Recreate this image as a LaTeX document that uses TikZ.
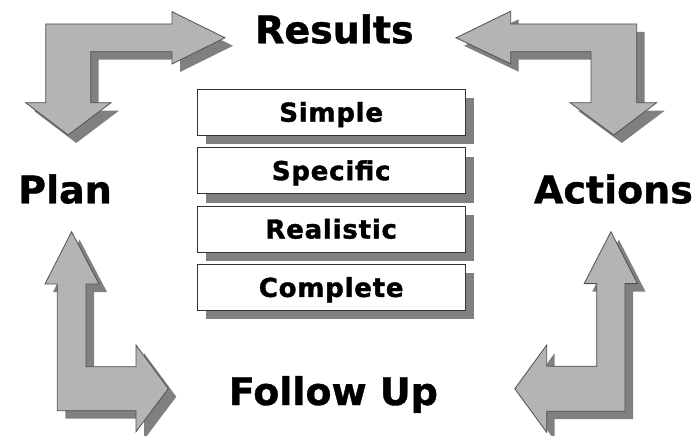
\documentclass[tikz,border=0pt]{standalone}
\usepackage{fontspec}
\usetikzlibrary{positioning,shadows}
\newfontfamily\heavyfont[FakeBold=1]{DejaVu Sans Bold}
\newfontfamily\stepfont[FakeBold=1.5,LetterSpace=3]{DejaVu Sans Bold}
\definecolor{arrowgray}{HTML}{B4B4B4}
\definecolor{shadowgray}{HTML}{808080}
\definecolor{edgegray}{HTML}{505050}
\tikzset{
  arrowbody/.style={fill=arrowgray, draw=edgegray, line width=0.8pt, line join=miter},
  arrowshadow/.style={fill=shadowgray, shift={(8,8)}},
  stepbox/.style={draw=black!80, line width=1pt, fill=white, minimum width=267.7pt,
    minimum height=46pt, inner sep=0pt, text height=19pt, text depth=0pt,
    font=\stepfont\fontsize{26}{28}\selectfont,
    drop shadow={shadow xshift=9pt, shadow yshift=-9pt, fill=shadowgray, opacity=1}},
  biglabel/.style={anchor=base, inner sep=0pt, font=\heavyfont\fontsize{38}{40}\selectfont}
}
% the four bent arrows (pixel coordinates, y downwards)
\def\arrowTL{(45.7,24) -- (172,24) -- (172,11.7) -- (225,37.8) -- (172,64) -- (172,51.7)
  -- (90.7,51.7) -- (90.7,102.7) -- (111,102.7) -- (68.2,135) -- (25.7,102.7) -- (45.7,102.7) -- cycle}
\def\arrowTR{(636.7,24) -- (510.7,24) -- (510.7,11.2) -- (456,37.8) -- (510.7,63.8) -- (510.7,51.7)
  -- (591,51.7) -- (591,102.7) -- (570,102.7) -- (613.8,135) -- (656.7,102.7) -- (636.7,102.7) -- cycle}
\def\arrowBL{(57.3,410.7) -- (57.3,284) -- (45,284) -- (71.6,231.7) -- (99,284) -- (86,284)
  -- (86,366.7) -- (136,366.7) -- (136,345) -- (168.3,388.7) -- (136,431.7) -- (136,410.7) -- cycle}
\def\arrowBR{(625,411.2) -- (625,283.6) -- (637.5,283.6) -- (610.9,231.7) -- (584.2,283.6) -- (596.7,283.6)
  -- (596.7,366.2) -- (546.7,366.2) -- (546.7,345) -- (514.8,388.7) -- (546.7,432.4) -- (546.7,411.2) -- cycle}
\begin{document}
\begin{tikzpicture}[x=1pt, y=-1pt]
  \useasboundingbox (0,0) rectangle (696,436);
  % shadows first, then the arrows
  \foreach \a in {\arrowTL,\arrowTR,\arrowBL,\arrowBR}{
    \fill[arrowshadow] \a;
  }
  \foreach \a in {\arrowTL,\arrowTR,\arrowBL,\arrowBR}{
    \draw[arrowbody] \a;
  }
  % corner labels
  \node[biglabel] (results) at (334.4,43.3) {Results};
  \node[biglabel] (plan) at (65,203.3) {Plan};
  \node[biglabel] (actions) at (613.4,203.3) {Actions};
  \node[biglabel] (followup) at (333.4,405) {Follow Up};
  % the stack in the middle
  \node[stepbox] (simple) at (331.2,112.2) {Simple};
  \node[stepbox, below=11.4pt of simple] (specific) {Specific};
  \node[stepbox, below=11.4pt of specific] (realistic) {Realistic};
  \node[stepbox, below=11.4pt of realistic] (complete) {Complete};
\end{tikzpicture}
\end{document}
